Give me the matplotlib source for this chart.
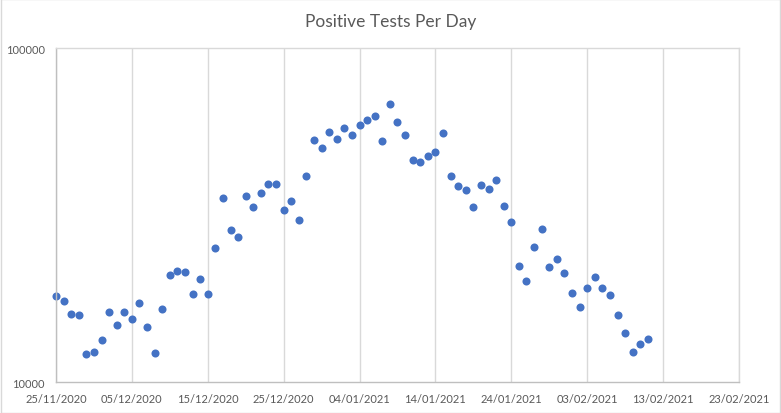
import datetime as dt
import matplotlib
matplotlib.use("Agg")
import matplotlib.pyplot as plt
import matplotlib.dates as mdates
from matplotlib.patches import Rectangle

# daily positive tests (log scale)
start_date = dt.date(2020, 11, 25)
positive_tests = [
    18190, 17570, 16060, 15850, 12190, 12360, 13430, 16180, 14890, 16290,
    15520, 17330, 14690, 12270, 16630, 21020, 21610, 21460, 18440, 20320,
    18440, 25160, 35530, 28490, 27140, 36020, 33380, 36780, 39130, 39130,
    32700, 34790, 30520, 41340, 53010, 50160, 56020, 53380, 57590, 54870,
    58800, 60850, 62560, 52650, 67960, 60020, 54870, 46170, 45530, 47460,
    48790, 55630, 41340, 38600, 37540, 33380, 38870, 37800, 40210, 33610,
    30100, 22220, 20170, 25330, 28680, 22070, 23320, 21170, 18570, 16860,
    19220, 20600, 19090, 18310, 15850, 14090, 12360, 13060, 13520,
]
dates = [start_date + dt.timedelta(days=i) for i in range(len(positive_tests))]

x_start = dt.date(2020, 11, 25)
x_end = dt.date(2021, 2, 23)
y_ticks = [10000, 100000]

plt.rcParams['font.family'] = ['Lato', 'DejaVu Sans']

fig = plt.figure(figsize=(7.81, 4.14), dpi=100)
ax = fig.add_axes([0.0717, 0.0742, 0.8745, 0.8067])

ax.plot(dates, positive_tests, linestyle='none', marker='o',
        markersize=5.8, color='#4472C4', markeredgewidth=0, clip_on=False)

ax.set_yscale('log')
ax.set_ylim(10000, 100000)
ax.set_yticks(y_ticks)
ax.set_yticklabels([str(v) for v in y_ticks])
ax.yaxis.set_minor_locator(matplotlib.ticker.NullLocator())

ax.set_xlim(x_start, x_end)
ticks = [x_start + dt.timedelta(days=10 * i) for i in range(10)]
ax.set_xticks(ticks)
ax.xaxis.set_major_formatter(mdates.DateFormatter('%d/%m/%Y'))

ax.grid(axis='x', color='#D9D9D9', linewidth=1)
ax.set_axisbelow(True)
for side in ['top', 'right']:
    ax.spines[side].set_color('#D9D9D9')
for side in ['left', 'bottom']:
    ax.spines[side].set_color('#BFBFBF')
for s in ax.spines.values():
    s.set_linewidth(1)

ax.tick_params(axis='both', length=0, labelsize=8, labelcolor='#595959')
ax.tick_params(axis='x', pad=8)
ax.tick_params(axis='y', pad=8)

fig.suptitle('Positive Tests Per Day', y=0.965, fontsize=12.5, color='#595959')

# chart border
fig.patches.append(Rectangle((0.0008, 0.0012), 0.9984, 0.9976, transform=fig.transFigure,
                             fill=False, edgecolor='#D9D9D9', linewidth=1))

fig.savefig('out.png', dpi=100)
